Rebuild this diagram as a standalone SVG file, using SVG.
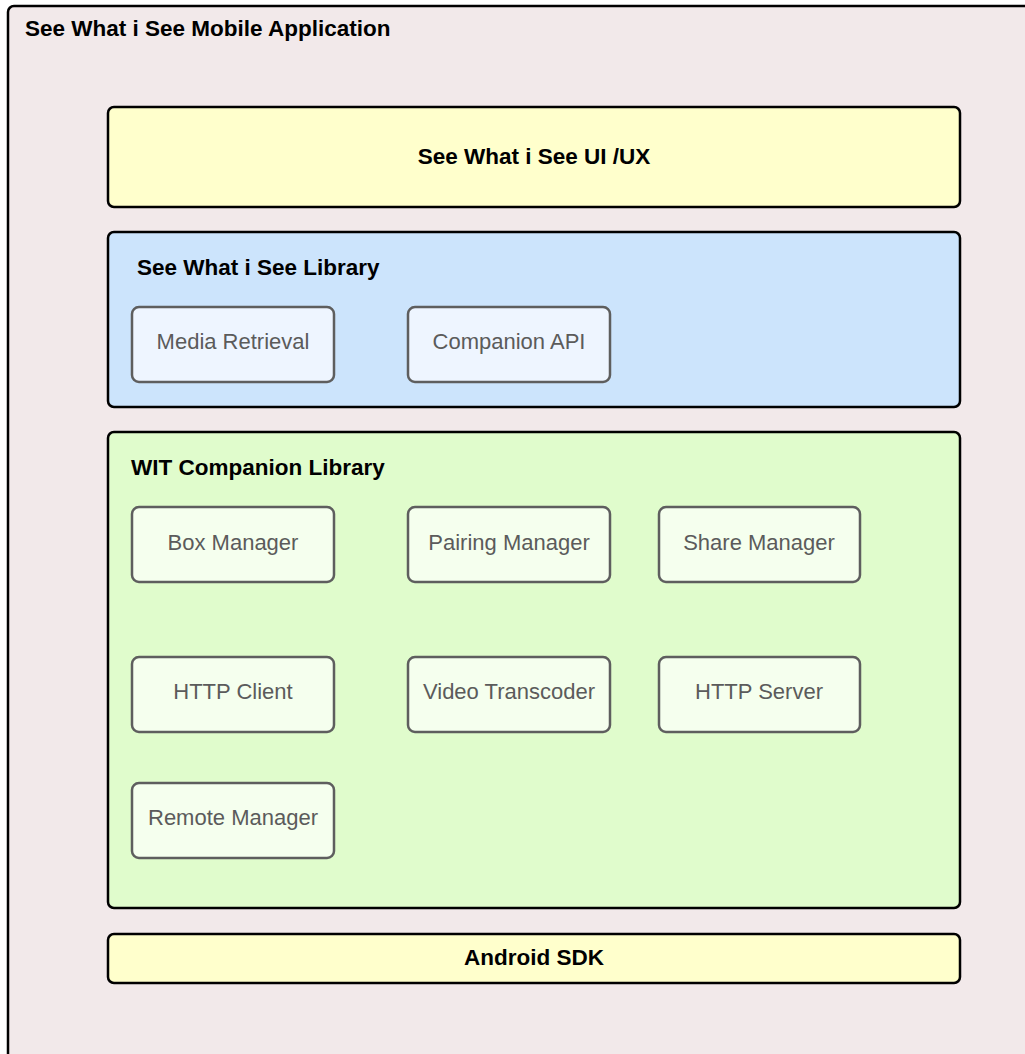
<svg xmlns="http://www.w3.org/2000/svg" width="1025" height="1054" viewBox="0 0 1025 1054">
  <style>
    .title { font-family: "Liberation Sans", Arial, sans-serif; font-weight: bold; font-size: 22.5px; fill: #000; }
    .layer { stroke: #000; stroke-width: 2.5; }
    .comp { stroke: #5e5e5e; stroke-width: 2.5; }
    .comp-blue { fill: #eef5ff; }
    .comp-green { fill: #f5ffee; }
    .label { font-family: "Liberation Sans", Arial, sans-serif; font-size: 22px; fill: #5b5b5b; text-anchor: middle; }
  </style>

  <!-- outer application frame -->
  <g id="app">
    <rect x="8" y="6" width="1040" height="1070" rx="6" fill="#f2e9ea" class="layer"/>
    <text x="25" y="36" class="title">See What i See Mobile Application</text>
  </g>

  <g id="ui-ux">
    <rect x="108" y="107" width="852" height="100" rx="6" fill="#ffffcc" class="layer"/>
    <text x="534" y="164" class="title" text-anchor="middle">See What i See UI /UX</text>
  </g>

  <g id="siws-library">
    <rect x="108" y="232" width="852" height="175" rx="6" fill="#cce4fc" class="layer"/>
    <text x="137" y="275" class="title">See What i See Library</text>
  </g>
  <g id="media-retrieval">
    <rect x="132" y="307" width="202" height="75" rx="7" class="comp comp-blue"/>
    <text x="233" y="349" class="label">Media Retrieval</text>
  </g>
  <g id="companion-api">
    <rect x="408" y="307" width="202" height="75" rx="7" class="comp comp-blue"/>
    <text x="509" y="349" class="label">Companion API</text>
  </g>

  <g id="wit-companion-library">
    <rect x="108" y="432" width="852" height="476" rx="6" fill="#e0fccc" class="layer"/>
    <text x="131" y="475" class="title">WIT Companion Library</text>
  </g>
  <g id="box-manager">
    <rect x="132" y="507" width="202" height="75" rx="7" class="comp comp-green"/>
    <text x="233" y="550" class="label">Box Manager</text>
  </g>
  <g id="pairing-manager">
    <rect x="408" y="507" width="202" height="75" rx="7" class="comp comp-green"/>
    <text x="509" y="550" class="label">Pairing Manager</text>
  </g>
  <g id="share-manager">
    <rect x="659" y="507" width="201" height="75" rx="7" class="comp comp-green"/>
    <text x="759" y="550" class="label">Share Manager</text>
  </g>
  <g id="http-client">
    <rect x="132" y="657" width="202" height="75" rx="7" class="comp comp-green"/>
    <text x="233" y="699" class="label">HTTP Client</text>
  </g>
  <g id="video-transcoder">
    <rect x="408" y="657" width="202" height="75" rx="7" class="comp comp-green"/>
    <text x="509" y="699" class="label">Video Transcoder</text>
  </g>
  <g id="http-server">
    <rect x="659" y="657" width="201" height="75" rx="7" class="comp comp-green"/>
    <text x="759" y="699" class="label">HTTP Server</text>
  </g>
  <g id="remote-manager">
    <rect x="132" y="783" width="202" height="75" rx="7" class="comp comp-green"/>
    <text x="233" y="825" class="label">Remote Manager</text>
  </g>

  <g id="android-sdk">
    <rect x="108" y="934" width="852" height="49" rx="6" fill="#ffffcc" class="layer"/>
    <text x="534" y="965" class="title" text-anchor="middle">Android SDK</text>
  </g>

  <g id="connectors"></g>
</svg>
